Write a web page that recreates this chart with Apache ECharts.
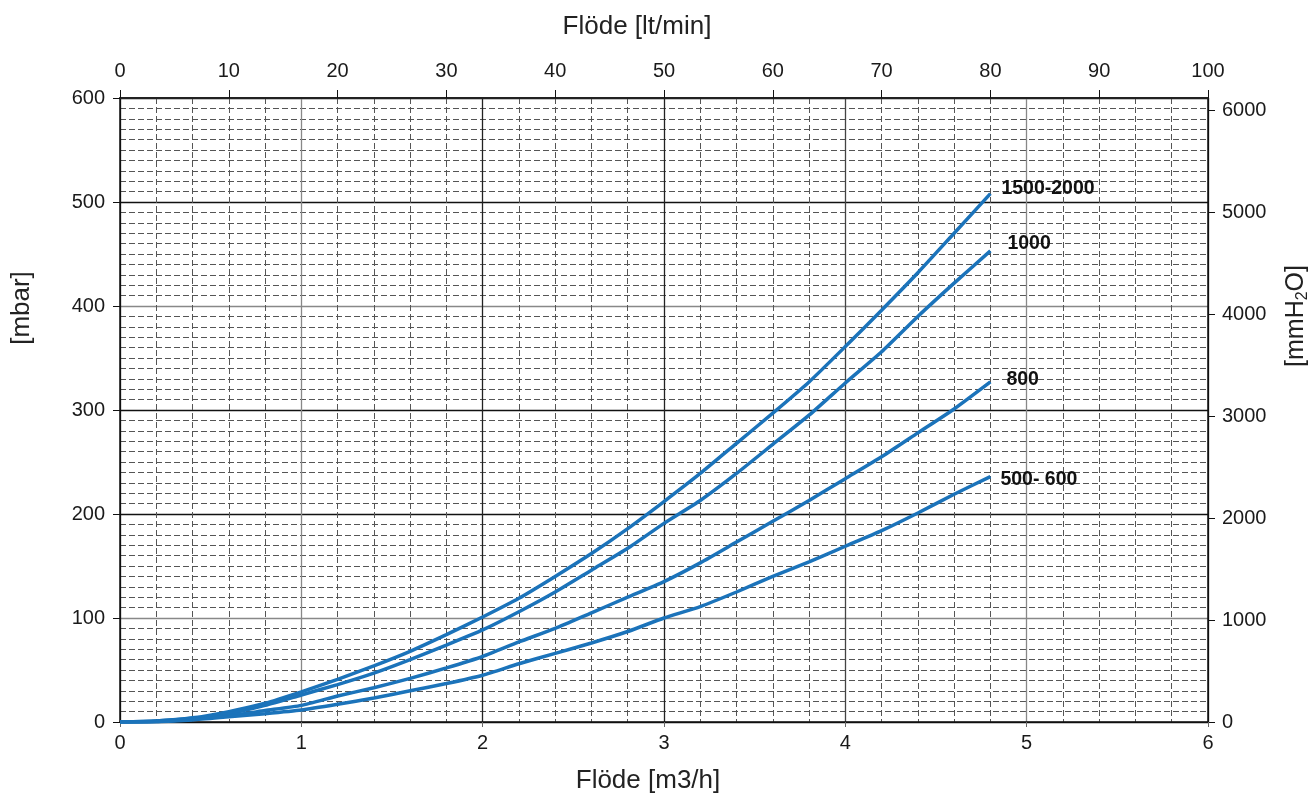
<!DOCTYPE html>
<html><head><meta charset="utf-8">
<script src="https://cdn.jsdelivr.net/npm/echarts@6/dist/echarts.min.js"></script>
<style>html,body{margin:0;padding:0;background:#fff}#c{width:1316px;height:798px}</style>
</head><body><div id="c"></div><script>
// Flow [m3/h]
const flow = [0,0.2,0.4,0.6,0.8,1.0,1.2,1.4,1.6,1.8,2.0,2.2,2.4,2.6,2.8,3.0,3.2,3.4,3.6,3.8,4.0,4.2,4.4,4.6,4.8];
// Pressure drop [mbar]
const p1500_2000 = [0,1,4,10,18,29,41,54,68,84,101,119,140,162,186,212,239,268,297,327,361,396,432,470,508];
const p1000      = [0,1,3.5,8,16,26,36,47,60,74,88.5,106,125,146,167,191,213,239,267,295,326,356,390,422,453];
const p800       = [0,0.5,3,6,11,16,25,33,42,52,63,77,90,105,120,135,153,173,193,213,234,255,278,301,327];
const p500_600   = [0,0.3,2,5,8,11.5,17,23,30,37,45,56,66,76,87,100,111,125,140,154,169,184,201,219,236];
const seriesNames = ['1500-2000','1000','800','500- 600'];
const seriesValues = [p1500_2000, p1000, p800, p500_600];
const axisTitles = {bottom:'Flöde [m3/h]', top:'Flöde [lt/min]', left:'[mbar]', right:'[mmH2O]'};
const MBAR_TO_MMH2O = 10.197;

const labelOffsets = [[3,-5],[9,-7],[8,-2],[2,3]];
const font = "'Liberation Sans', Arial, sans-serif";
const lineColor = '#1b73ba';
const dash = [6,3];
const txt = '#1a1a1a';

const chart = echarts.init(document.getElementById('c'), null, {renderer:'canvas'});
chart.setOption({
  animation:false,
  backgroundColor:'#fff',
  textStyle:{fontFamily:font},
  grid:{left:120,right:108,top:98,bottom:76,outerBoundsMode:'none',containLabel:false},
  xAxis:[{
    type:'value', position:'bottom', min:0, max:6, interval:1,
    axisLine:{show:true,onZero:false,lineStyle:{color:'#111',width:1.5}},
    axisTick:{show:true,length:5,lineStyle:{color:'#666'}},
    axisLabel:{fontSize:20,color:txt,margin:11,fontFamily:font},
    splitLine:{show:true,lineStyle:{color:['#111','#888','#222','#222','#444','#888','#111'],width:1.3}},
    minorTick:{show:false,splitNumber:5},
    minorSplitLine:{show:true,lineStyle:{color:'#555',type:dash,width:1}}
  },{
    type:'value', position:'top', min:0, max:100, interval:10,
    axisLine:{show:true,onZero:false,lineStyle:{color:'#222',width:2}},
    axisTick:{show:true,length:8,lineStyle:{color:'#111'}},
    axisLabel:{fontSize:20,color:txt,margin:17,fontFamily:font},
    splitLine:{show:false}
  }],
  yAxis:[{
    type:'value', position:'left', min:0, max:600, interval:100,
    axisLine:{show:true,onZero:false,lineStyle:{color:'#111',width:1.5}},
    axisTick:{show:true,length:7,lineStyle:{color:'#111'}},
    axisLabel:{fontSize:20,color:txt,margin:15,fontFamily:font},
    splitLine:{show:true,lineStyle:{color:['#111','#888','#111','#111','#888','#111','#111'],width:1.3}},
    minorTick:{show:false,splitNumber:10},
    minorSplitLine:{show:true,lineStyle:{color:'#555',type:dash,width:1}}
  },{
    type:'value', position:'right', min:0, max:600*MBAR_TO_MMH2O, interval:1000,
    axisLine:{show:true,onZero:false,lineStyle:{color:'#111',width:1.5}},
    axisTick:{show:true,length:7,lineStyle:{color:'#111'}},
    axisLabel:{fontSize:20,color:txt,margin:14,fontFamily:font,formatter:v=>String(v)},
    splitLine:{show:false}
  }],
  graphic:[
    {type:'text',x:637,y:27,style:{text:axisTitles.top,font:"26px "+font,fill:'#222',align:'center',verticalAlign:'middle'}},
    {type:'text',x:648,y:781,style:{text:axisTitles.bottom,font:"26px "+font,fill:'#222',align:'center',verticalAlign:'middle'}},
    {type:'text',x:22,y:308,rotation:Math.PI/2,style:{text:axisTitles.left,font:"26px "+font,fill:'#222',align:'center',verticalAlign:'middle'}},
    {type:'text',x:1296,y:316,rotation:Math.PI/2,style:{
      text:'{a|[mmH}{b|2}{a|O]}',align:'center',verticalAlign:'middle',fill:'#222',
      rich:{
        a:{fontSize:25,lineHeight:30,verticalAlign:'middle',fill:'#222',fontFamily:font},
        b:{fontSize:16,lineHeight:16,verticalAlign:'bottom',fill:'#222',fontFamily:font}
      }}}
  ],
  series: seriesNames.map((n,i)=>({
    name:n, type:'line', xAxisIndex:0, yAxisIndex:0,
    data: flow.map((q,j)=>[q, seriesValues[i][j]]),
    showSymbol:false, symbol:'none', smooth:0.2,
    lineStyle:{color:lineColor,width:3.5},
    endLabel:{show:true,formatter:n,offset:labelOffsets[i],fontSize:19.5,fontWeight:'bold',color:'#111',fontFamily:font}
  }))
});
</script></body></html>
